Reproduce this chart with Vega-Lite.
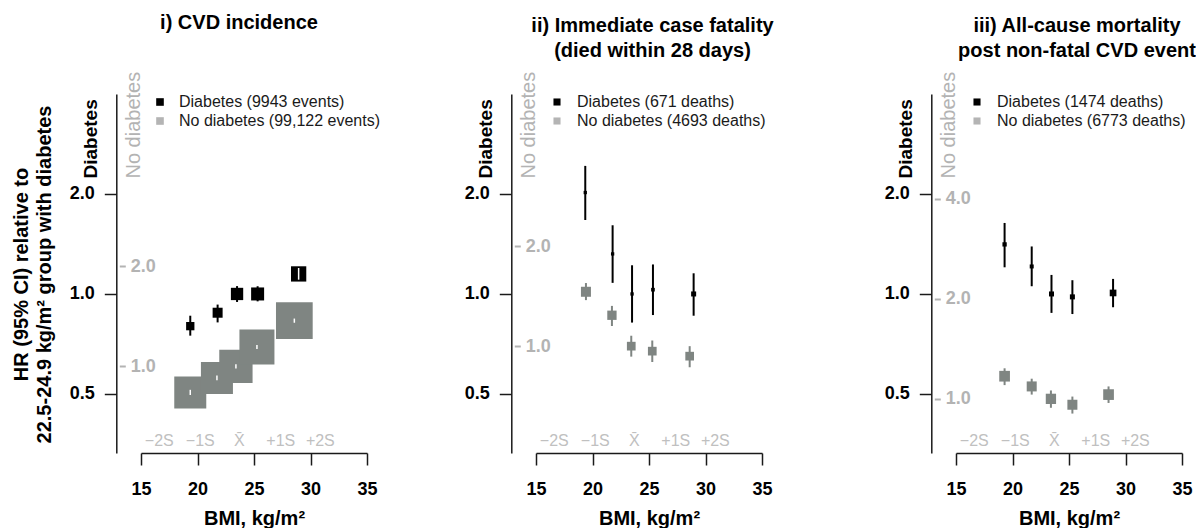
{
  "$schema": "https://vega.github.io/schema/vega-lite/v6.json",
  "padding": {"left": 11, "top": 13, "right": 0, "bottom": 0},
  "config": {
    "font": "Liberation Sans",
    "view": {"stroke": null},
    "axis": {"labelFont": "Liberation Sans", "titleFont": "Liberation Sans", "grid": false},
    "legend": {"labelFont": "Liberation Sans", "labelLimit": 0},
    "title": {"font": "Liberation Sans", "fontSize": 20, "fontWeight": "bold", "lineHeight": 25, "color": "#000000", "offset": 6}
  },
  "datasets": {
    "hr": [
      {"panel": "i", "group": "Diabetes", "series": "Diabetes (9943 events)", "bmi": 19.36, "hr": 0.80, "lo": 0.749, "hi": 0.86, "w": 820},
      {"panel": "i", "group": "Diabetes", "series": "Diabetes (9943 events)", "bmi": 21.78, "hr": 0.878, "lo": 0.821, "hi": 0.929, "w": 1190},
      {"panel": "i", "group": "Diabetes", "series": "Diabetes (9943 events)", "bmi": 23.5, "hr": 1.0, "lo": 0.946, "hi": 1.056, "w": 1800},
      {"panel": "i", "group": "Diabetes", "series": "Diabetes (9943 events)", "bmi": 25.32, "hr": 1.0, "lo": 0.95, "hi": 1.055, "w": 2010},
      {"panel": "i", "group": "Diabetes", "series": "Diabetes (9943 events)", "bmi": 28.95, "hr": 1.149, "lo": 1.104, "hi": 1.197, "w": 2780},
      {"panel": "i", "group": "No diabetes", "series": "No diabetes (99,122 events)", "bmi": 19.36, "hr": 0.835, "lo": 0.82, "hi": 0.85, "w": 12180},
      {"panel": "i", "group": "No diabetes", "series": "No diabetes (99,122 events)", "bmi": 21.72, "hr": 0.923, "lo": 0.908, "hi": 0.938, "w": 12180},
      {"panel": "i", "group": "No diabetes", "series": "No diabetes (99,122 events)", "bmi": 23.4, "hr": 1.0, "lo": 0.985, "hi": 1.015, "w": 13190},
      {"panel": "i", "group": "No diabetes", "series": "No diabetes (99,122 events)", "bmi": 25.26, "hr": 1.144, "lo": 1.128, "hi": 1.16, "w": 14570},
      {"panel": "i", "group": "No diabetes", "series": "No diabetes (99,122 events)", "bmi": 28.57, "hr": 1.373, "lo": 1.353, "hi": 1.393, "w": 16020},
      {"panel": "ii", "group": "Diabetes", "series": "Diabetes (671 deaths)", "bmi": 19.36, "hr": 2.02, "lo": 1.67, "hi": 2.43, "w": 130},
      {"panel": "ii", "group": "Diabetes", "series": "Diabetes (671 deaths)", "bmi": 21.78, "hr": 1.32, "lo": 1.08, "hi": 1.61, "w": 130},
      {"panel": "ii", "group": "Diabetes", "series": "Diabetes (671 deaths)", "bmi": 23.5, "hr": 1.0, "lo": 0.82, "hi": 1.22, "w": 130},
      {"panel": "ii", "group": "Diabetes", "series": "Diabetes (671 deaths)", "bmi": 25.35, "hr": 1.03, "lo": 0.864, "hi": 1.227, "w": 160},
      {"panel": "ii", "group": "Diabetes", "series": "Diabetes (671 deaths)", "bmi": 28.95, "hr": 1.0, "lo": 0.86, "hi": 1.154, "w": 300},
      {"panel": "ii", "group": "No diabetes", "series": "No diabetes (4693 deaths)", "bmi": 19.42, "hr": 1.458, "lo": 1.376, "hi": 1.549, "w": 1190},
      {"panel": "ii", "group": "No diabetes", "series": "No diabetes (4693 deaths)", "bmi": 21.72, "hr": 1.239, "lo": 1.15, "hi": 1.322, "w": 1030},
      {"panel": "ii", "group": "No diabetes", "series": "No diabetes (4693 deaths)", "bmi": 23.43, "hr": 1.0, "lo": 0.93, "hi": 1.075, "w": 900},
      {"panel": "ii", "group": "No diabetes", "series": "No diabetes (4693 deaths)", "bmi": 25.29, "hr": 0.966, "lo": 0.896, "hi": 1.04, "w": 900},
      {"panel": "ii", "group": "No diabetes", "series": "No diabetes (4693 deaths)", "bmi": 28.6, "hr": 0.933, "lo": 0.864, "hi": 1.0, "w": 900},
      {"panel": "iii", "group": "Diabetes", "series": "Diabetes (1474 deaths)", "bmi": 19.3, "hr": 1.41, "lo": 1.203, "hi": 1.636, "w": 220},
      {"panel": "iii", "group": "Diabetes", "series": "Diabetes (1474 deaths)", "bmi": 21.7, "hr": 1.21, "lo": 1.055, "hi": 1.39, "w": 190},
      {"panel": "iii", "group": "Diabetes", "series": "Diabetes (1474 deaths)", "bmi": 23.45, "hr": 1.0, "lo": 0.877, "hi": 1.141, "w": 300},
      {"panel": "iii", "group": "Diabetes", "series": "Diabetes (1474 deaths)", "bmi": 25.3, "hr": 0.98, "lo": 0.87, "hi": 1.10, "w": 300},
      {"panel": "iii", "group": "Diabetes", "series": "Diabetes (1474 deaths)", "bmi": 28.9, "hr": 1.007, "lo": 0.912, "hi": 1.11, "w": 530},
      {"panel": "iii", "group": "No diabetes", "series": "No diabetes (6773 deaths)", "bmi": 19.3, "hr": 1.17, "lo": 1.10, "hi": 1.236, "w": 1360},
      {"panel": "iii", "group": "No diabetes", "series": "No diabetes (6773 deaths)", "bmi": 21.7, "hr": 1.09, "lo": 1.03, "hi": 1.15, "w": 1190},
      {"panel": "iii", "group": "No diabetes", "series": "No diabetes (6773 deaths)", "bmi": 23.4, "hr": 1.0, "lo": 0.94, "hi": 1.06, "w": 1260},
      {"panel": "iii", "group": "No diabetes", "series": "No diabetes (6773 deaths)", "bmi": 25.3, "hr": 0.96, "lo": 0.903, "hi": 1.016, "w": 1190},
      {"panel": "iii", "group": "No diabetes", "series": "No diabetes (6773 deaths)", "bmi": 28.5, "hr": 1.03, "lo": 0.972, "hi": 1.09, "w": 1360}
    ],
    "sd": [
      {"lab": "\u22122S", "bmi": 16.62},
      {"lab": "\u22121S", "bmi": 20.25},
      {"lab": "X\u0304", "bmi": 23.7},
      {"lab": "+1S", "bmi": 27.37},
      {"lab": "+2S", "bmi": 30.87}
    ]
  },
  "spacing": 169,
  "bounds": "flush",
  "resolve": {"scale": {"color": "independent", "size": "independent"}, "legend": {"color": "independent", "size": "independent"}},
  "hconcat": [
    {
      "width": 226, "height": 359,
      "title": {"text": "i) CVD incidence", "dx": -15, "dy": -32},
      "layer": [
        {
          "data": {"name": "hr"},
          "transform": [{"filter": "datum.panel === 'i' && datum.group === 'Diabetes'"}],
          "layer": [
            {"mark": {"type": "rule", "color": "#000000", "strokeWidth": 2},
             "encoding": {
               "x": {"field": "bmi", "type": "quantitative", "scale": {"domain": [15, 35], "range": [0, 226], "nice": false, "zero": false},
                     "axis": {"values": [15, 20, 25, 30, 35], "tickSize": 12, "tickWidth": 1.5, "tickColor": "#1a1a1a", "domainColor": "#1a1a1a", "domainWidth": 1.5, "labelFontSize": 18, "labelFontWeight": "bold", "labelColor": "#000000", "labelPadding": 15, "labelFlush": false, "labelOverlap": false, "title": "BMI, kg/m\u00b2", "titleFontSize": 20, "titleFontWeight": "bold", "titleColor": "#000000", "titlePadding": 10, "grid": false}},
               "y": {"field": "lo", "type": "quantitative", "scale": {"type": "log", "domain": [0.332, 4], "nice": false, "zero": false},
                     "axis": {"orient": "left", "offset": 24.7, "values": [0.5, 1, 2], "format": ".1f", "tickSize": 12, "tickWidth": 1.5, "tickColor": "#1a1a1a", "domainColor": "#1a1a1a", "domainWidth": 1.5, "labelFontSize": 18, "labelFontWeight": "bold", "labelColor": "#000000", "labelPadding": 10, "labelFlush": false, "labelOverlap": false, "grid": false,
                              "title": ["HR (95% CI) relative to", "22.5-24.9 kg/m\u00b2 group with diabetes"], "titleFontSize": 20, "titleFontWeight": "bold", "titleColor": "#000000", "titleLineHeight": 23, "titleAngle": -90, "titleAlign": "center", "titleBaseline": "top", "titleX": -105, "titleY": 180}},
               "y2": {"field": "hi"}}},
            {"mark": {"type": "point", "shape": "square", "filled": true, "opacity": 1, "strokeWidth": 0},
             "encoding": {
               "x": {"field": "bmi", "type": "quantitative", "scale": {"domain": [15, 35], "range": [0, 226], "nice": false, "zero": false}},
               "y": {"field": "hr", "type": "quantitative", "scale": {"type": "log", "domain": [0.332, 4], "nice": false, "zero": false}},
               "size": {"field": "w", "type": "quantitative", "scale": {"type": "linear", "domain": [0, 10000], "range": [0, 841], "zero": true}, "legend": null},
               "color": {"field": "series", "type": "nominal", "scale": {"domain": ["Diabetes (9943 events)", "No diabetes (99,122 events)"], "range": ["#000000", "#b4b4b4"]},
                         "legend": {"orient": "none", "legendX": 11, "legendY": 0, "title": null, "symbolType": "square", "symbolSize": 58, "symbolStrokeWidth": 0, "labelFontSize": 16, "labelLimit": 0, "labelColor": "#1a1a1a", "labelOffset": 11, "rowPadding": 3, "padding": 0}}}},
            {"transform": [{"filter": "datum.hi / datum.lo < 1.09"}],
             "mark": {"type": "rule", "color": "#ffffff", "strokeWidth": 1.5},
             "encoding": {
               "x": {"field": "bmi", "type": "quantitative", "scale": {"domain": [15, 35], "range": [0, 226], "nice": false, "zero": false}},
               "y": {"field": "lo", "type": "quantitative", "scale": {"type": "log", "domain": [0.332, 4], "nice": false, "zero": false}},
               "y2": {"field": "hi"}}}
          ]
        },
        {
          "data": {"name": "hr"},
          "transform": [{"filter": "datum.panel === 'i' && datum.group === 'No diabetes'"}],
          "layer": [
            {"mark": {"type": "rule", "color": "#7f8582", "strokeWidth": 2},
             "encoding": {
               "x": {"field": "bmi", "type": "quantitative", "scale": {"domain": [15, 35], "range": [0, 226], "nice": false, "zero": false}},
               "y": {"field": "lo", "type": "quantitative", "scale": {"type": "log", "domain": [0.5485, 6.608], "nice": false, "zero": false},
                     "axis": {"orient": "right", "offset": -247.7, "values": [1, 2], "format": ".1f", "domain": false, "tickSize": 6, "tickWidth": 2, "tickColor": "#b3b3b3", "labelColor": "#b3b3b3", "labelFontSize": 18, "labelFontWeight": "bold", "labelPadding": 5, "labelFlush": false, "labelOverlap": false, "grid": false,
                              "title": "No diabetes", "titleColor": "#b3b3b3", "titleFontSize": 20, "titleFontWeight": "normal", "titleAngle": -90, "titleAlign": "left", "titleBaseline": "middle", "titleX": 14, "titleY": 84}},
               "y2": {"field": "hi"}}},
            {"mark": {"type": "point", "shape": "square", "filled": true, "opacity": 1, "strokeWidth": 0, "color": "#7f8582"},
             "encoding": {
               "x": {"field": "bmi", "type": "quantitative", "scale": {"domain": [15, 35], "range": [0, 226], "nice": false, "zero": false}},
               "y": {"field": "hr", "type": "quantitative", "scale": {"type": "log", "domain": [0.5485, 6.608], "nice": false, "zero": false}},
               "size": {"field": "w", "type": "quantitative", "scale": {"type": "linear", "domain": [0, 10000], "range": [0, 841], "zero": true}, "legend": null}}},
            {"transform": [{"filter": "datum.hi / datum.lo < 1.09"}],
             "mark": {"type": "rule", "color": "#ffffff", "strokeWidth": 1.5},
             "encoding": {
               "x": {"field": "bmi", "type": "quantitative", "scale": {"domain": [15, 35], "range": [0, 226], "nice": false, "zero": false}},
               "y": {"field": "lo", "type": "quantitative", "scale": {"type": "log", "domain": [0.5485, 6.608], "nice": false, "zero": false}},
               "y2": {"field": "hi"}}}
          ]
        },
        {
          "data": {"name": "sd"},
          "mark": {"type": "text", "fontSize": 16, "color": "#c0c0c0", "align": "center", "baseline": "middle"},
          "encoding": {
            "x": {"field": "bmi", "type": "quantitative", "scale": {"domain": [15, 35], "range": [0, 226], "nice": false, "zero": false}},
            "y": {"datum": 0.362, "type": "quantitative", "scale": {"type": "log", "domain": [0.332, 4], "nice": false, "zero": false},
                  "axis": {"orient": "left", "offset": 24.7, "domain": false, "ticks": false, "labels": false, "grid": false, "title": "Diabetes", "titleColor": "#000000", "titleFontSize": 19, "titleFontWeight": "bold", "titleAngle": -90, "titleAlign": "left", "titleBaseline": "middle", "titleX": -26, "titleY": 84}},
            "text": {"field": "lab"}
          }
        }
      ],
      "resolve": {"scale": {"y": "independent"}, "axis": {"y": "independent"}}
    },
    {
      "width": 251, "height": 359,
      "title": {"text": ["ii) Immediate case fatality", "(died within 28 days)"], "dx": -9, "dy": -4},
      "layer": [
        {
          "data": {"name": "hr"},
          "transform": [{"filter": "datum.panel === 'ii' && datum.group === 'Diabetes'"}],
          "layer": [
            {"mark": {"type": "rule", "color": "#000000", "strokeWidth": 2},
             "encoding": {
               "x": {"field": "bmi", "type": "quantitative", "scale": {"domain": [15, 35], "range": [0, 226], "nice": false, "zero": false},
                     "axis": {"values": [15, 20, 25, 30, 35], "tickSize": 12, "tickWidth": 1.5, "tickColor": "#1a1a1a", "domainColor": "#1a1a1a", "domainWidth": 1.5, "labelFontSize": 18, "labelFontWeight": "bold", "labelColor": "#000000", "labelPadding": 15, "labelFlush": false, "labelOverlap": false, "title": "BMI, kg/m\u00b2", "titleFontSize": 20, "titleFontWeight": "bold", "titleColor": "#000000", "titlePadding": 10, "titleX": 113, "grid": false}},
               "y": {"field": "lo", "type": "quantitative", "scale": {"type": "log", "domain": [0.332, 4], "nice": false, "zero": false},
                     "axis": {"orient": "left", "offset": 24.7, "values": [0.5, 1, 2], "format": ".1f", "tickSize": 12, "tickWidth": 1.5, "tickColor": "#1a1a1a", "domainColor": "#1a1a1a", "domainWidth": 1.5, "labelFontSize": 18, "labelFontWeight": "bold", "labelColor": "#000000", "labelPadding": 10, "labelFlush": false, "labelOverlap": false, "grid": false, "title": null}},
               "y2": {"field": "hi"}}},
            {"mark": {"type": "point", "shape": "square", "filled": true, "opacity": 1, "strokeWidth": 0},
             "encoding": {
               "x": {"field": "bmi", "type": "quantitative", "scale": {"domain": [15, 35], "range": [0, 226], "nice": false, "zero": false}},
               "y": {"field": "hr", "type": "quantitative", "scale": {"type": "log", "domain": [0.332, 4], "nice": false, "zero": false}},
               "size": {"field": "w", "type": "quantitative", "scale": {"type": "linear", "domain": [0, 10000], "range": [0, 841], "zero": true}, "legend": null},
               "color": {"field": "series", "type": "nominal", "scale": {"domain": ["Diabetes (671 deaths)", "No diabetes (4693 deaths)"], "range": ["#000000", "#b4b4b4"]},
                         "legend": {"orient": "none", "legendX": 13, "legendY": 0, "title": null, "symbolType": "square", "symbolSize": 50, "symbolStrokeWidth": 0, "labelFontSize": 16, "labelLimit": 0, "labelColor": "#1a1a1a", "labelOffset": 12, "rowPadding": 3, "padding": 0}}}},
            {"transform": [{"filter": "datum.hi / datum.lo < 1.09"}],
             "mark": {"type": "rule", "color": "#ffffff", "strokeWidth": 1.5},
             "encoding": {
               "x": {"field": "bmi", "type": "quantitative", "scale": {"domain": [15, 35], "range": [0, 226], "nice": false, "zero": false}},
               "y": {"field": "lo", "type": "quantitative", "scale": {"type": "log", "domain": [0.332, 4], "nice": false, "zero": false}},
               "y2": {"field": "hi"}}}
          ]
        },
        {
          "data": {"name": "hr"},
          "transform": [{"filter": "datum.panel === 'ii' && datum.group === 'No diabetes'"}],
          "layer": [
            {"mark": {"type": "rule", "color": "#7f8582", "strokeWidth": 2},
             "encoding": {
               "x": {"field": "bmi", "type": "quantitative", "scale": {"domain": [15, 35], "range": [0, 226], "nice": false, "zero": false}},
               "y": {"field": "lo", "type": "quantitative", "scale": {"type": "log", "domain": [0.4768, 5.744], "nice": false, "zero": false},
                     "axis": {"orient": "right", "offset": -272.7, "values": [1, 2], "format": ".1f", "domain": false, "tickSize": 6, "tickWidth": 2, "tickColor": "#b3b3b3", "labelColor": "#b3b3b3", "labelFontSize": 18, "labelFontWeight": "bold", "labelPadding": 5, "labelFlush": false, "labelOverlap": false, "grid": false,
                              "title": "No diabetes", "titleColor": "#b3b3b3", "titleFontSize": 20, "titleFontWeight": "normal", "titleAngle": -90, "titleAlign": "left", "titleBaseline": "middle", "titleX": 14, "titleY": 84}},
               "y2": {"field": "hi"}}},
            {"mark": {"type": "point", "shape": "square", "filled": true, "opacity": 1, "strokeWidth": 0, "color": "#7f8582"},
             "encoding": {
               "x": {"field": "bmi", "type": "quantitative", "scale": {"domain": [15, 35], "range": [0, 226], "nice": false, "zero": false}},
               "y": {"field": "hr", "type": "quantitative", "scale": {"type": "log", "domain": [0.4768, 5.744], "nice": false, "zero": false}},
               "size": {"field": "w", "type": "quantitative", "scale": {"type": "linear", "domain": [0, 10000], "range": [0, 841], "zero": true}, "legend": null}}}
          ]
        },
        {
          "data": {"name": "sd"},
          "mark": {"type": "text", "fontSize": 16, "color": "#c0c0c0", "align": "center", "baseline": "middle"},
          "encoding": {
            "x": {"field": "bmi", "type": "quantitative", "scale": {"domain": [15, 35], "range": [0, 226], "nice": false, "zero": false}},
            "y": {"datum": 0.362, "type": "quantitative", "scale": {"type": "log", "domain": [0.332, 4], "nice": false, "zero": false},
                  "axis": {"orient": "left", "offset": 24.7, "domain": false, "ticks": false, "labels": false, "grid": false, "title": "Diabetes", "titleColor": "#000000", "titleFontSize": 19, "titleFontWeight": "bold", "titleAngle": -90, "titleAlign": "left", "titleBaseline": "middle", "titleX": -26, "titleY": 84}},
            "text": {"field": "lab"}
          }
        }
      ],
      "resolve": {"scale": {"y": "independent"}, "axis": {"y": "independent"}}
    },
    {
      "width": 226, "height": 359,
      "title": {"text": ["iii) All-cause mortality", "post non-fatal CVD event"], "dx": 8, "dy": -4},
      "layer": [
        {
          "data": {"name": "hr"},
          "transform": [{"filter": "datum.panel === 'iii' && datum.group === 'Diabetes'"}],
          "layer": [
            {"mark": {"type": "rule", "color": "#000000", "strokeWidth": 2},
             "encoding": {
               "x": {"field": "bmi", "type": "quantitative", "scale": {"domain": [15, 35], "range": [0, 226], "nice": false, "zero": false},
                     "axis": {"values": [15, 20, 25, 30, 35], "tickSize": 12, "tickWidth": 1.5, "tickColor": "#1a1a1a", "domainColor": "#1a1a1a", "domainWidth": 1.5, "labelFontSize": 18, "labelFontWeight": "bold", "labelColor": "#000000", "labelPadding": 15, "labelFlush": false, "labelOverlap": false, "title": "BMI, kg/m\u00b2", "titleFontSize": 20, "titleFontWeight": "bold", "titleColor": "#000000", "titlePadding": 10, "grid": false}},
               "y": {"field": "lo", "type": "quantitative", "scale": {"type": "log", "domain": [0.332, 4], "nice": false, "zero": false},
                     "axis": {"orient": "left", "offset": 24.7, "values": [0.5, 1, 2], "format": ".1f", "tickSize": 12, "tickWidth": 1.5, "tickColor": "#1a1a1a", "domainColor": "#1a1a1a", "domainWidth": 1.5, "labelFontSize": 18, "labelFontWeight": "bold", "labelColor": "#000000", "labelPadding": 10, "labelFlush": false, "labelOverlap": false, "grid": false, "title": null}},
               "y2": {"field": "hi"}}},
            {"mark": {"type": "point", "shape": "square", "filled": true, "opacity": 1, "strokeWidth": 0},
             "encoding": {
               "x": {"field": "bmi", "type": "quantitative", "scale": {"domain": [15, 35], "range": [0, 226], "nice": false, "zero": false}},
               "y": {"field": "hr", "type": "quantitative", "scale": {"type": "log", "domain": [0.332, 4], "nice": false, "zero": false}},
               "size": {"field": "w", "type": "quantitative", "scale": {"type": "linear", "domain": [0, 10000], "range": [0, 841], "zero": true}, "legend": null},
               "color": {"field": "series", "type": "nominal", "scale": {"domain": ["Diabetes (1474 deaths)", "No diabetes (6773 deaths)"], "range": ["#000000", "#b4b4b4"]},
                         "legend": {"orient": "none", "legendX": 13, "legendY": 0, "title": null, "symbolType": "square", "symbolSize": 50, "symbolStrokeWidth": 0, "labelFontSize": 16, "labelLimit": 0, "labelColor": "#1a1a1a", "labelOffset": 12, "rowPadding": 3, "padding": 0}}}}
          ]
        },
        {
          "data": {"name": "hr"},
          "transform": [{"filter": "datum.panel === 'iii' && datum.group === 'No diabetes'"}],
          "layer": [
            {"mark": {"type": "rule", "color": "#7f8582", "strokeWidth": 2},
             "encoding": {
               "x": {"field": "bmi", "type": "quantitative", "scale": {"domain": [15, 35], "range": [0, 226], "nice": false, "zero": false}},
               "y": {"field": "lo", "type": "quantitative", "scale": {"type": "log", "domain": [0.687, 8.28], "nice": false, "zero": false},
                     "axis": {"orient": "right", "offset": -247.7, "values": [1, 2, 4], "format": ".1f", "domain": false, "tickSize": 6, "tickWidth": 2, "tickColor": "#b3b3b3", "labelColor": "#b3b3b3", "labelFontSize": 18, "labelFontWeight": "bold", "labelPadding": 5, "labelFlush": false, "labelOverlap": false, "grid": false,
                              "title": "No diabetes", "titleColor": "#b3b3b3", "titleFontSize": 20, "titleFontWeight": "normal", "titleAngle": -90, "titleAlign": "left", "titleBaseline": "middle", "titleX": 14, "titleY": 84}},
               "y2": {"field": "hi"}}},
            {"mark": {"type": "point", "shape": "square", "filled": true, "opacity": 1, "strokeWidth": 0, "color": "#7f8582"},
             "encoding": {
               "x": {"field": "bmi", "type": "quantitative", "scale": {"domain": [15, 35], "range": [0, 226], "nice": false, "zero": false}},
               "y": {"field": "hr", "type": "quantitative", "scale": {"type": "log", "domain": [0.687, 8.28], "nice": false, "zero": false}},
               "size": {"field": "w", "type": "quantitative", "scale": {"type": "linear", "domain": [0, 10000], "range": [0, 841], "zero": true}, "legend": null}}}
          ]
        },
        {
          "data": {"name": "sd"},
          "mark": {"type": "text", "fontSize": 16, "color": "#c0c0c0", "align": "center", "baseline": "middle"},
          "encoding": {
            "x": {"field": "bmi", "type": "quantitative", "scale": {"domain": [15, 35], "range": [0, 226], "nice": false, "zero": false}},
            "y": {"datum": 0.362, "type": "quantitative", "scale": {"type": "log", "domain": [0.332, 4], "nice": false, "zero": false},
                  "axis": {"orient": "left", "offset": 24.7, "domain": false, "ticks": false, "labels": false, "grid": false, "title": "Diabetes", "titleColor": "#000000", "titleFontSize": 19, "titleFontWeight": "bold", "titleAngle": -90, "titleAlign": "left", "titleBaseline": "middle", "titleX": -26, "titleY": 84}},
            "text": {"field": "lab"}
          }
        }
      ],
      "resolve": {"scale": {"y": "independent"}, "axis": {"y": "independent"}}
    }
  ]
}
